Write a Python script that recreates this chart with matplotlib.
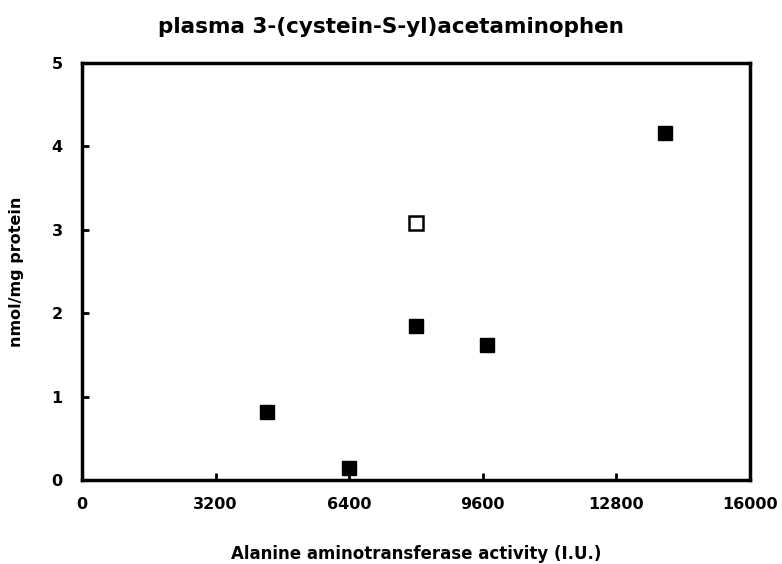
import matplotlib
matplotlib.use("Agg")
import matplotlib.pyplot as plt

# values
alt_filled = [4430, 6400, 8000, 9700, 13970]
cys_filled = [0.82, 0.14, 1.85, 1.62, 4.16]
alt_open = [8010]
cys_open = [3.08]

xticks = [0, 3200, 6400, 9600, 12800, 16000]
yticks = [0, 1, 2, 3, 4, 5]

plt.rcParams['font.family'] = ['DejaVu Sans']
plt.rcParams['font.weight'] = 'bold'

fig = plt.figure(figsize=(7.82, 5.64), dpi=100)
ax = fig.add_axes([0.1049, 0.1489, 0.8536, 0.7394])

ax.plot(alt_filled, cys_filled, 's', color='black', markersize=10.5, linestyle='none')
ax.plot(alt_open, cys_open, 's', markerfacecolor='white', markeredgecolor='black',
        markeredgewidth=1.8, markersize=10, linestyle='none')

ax.set_xlim(0, 16000)
ax.set_ylim(0, 5)
ax.set_xticks(xticks)
ax.set_yticks(yticks)
ax.tick_params(direction='in', length=5, width=2, labelsize=11.5)
ax.tick_params(axis='x', pad=12)
ax.tick_params(axis='y', pad=14)
for lab in ax.get_xticklabels() + ax.get_yticklabels():
    lab.set_fontweight('bold')
for sp in ax.spines.values():
    sp.set_linewidth(2.5)

# title is centred on the page, not on the axes
fig.text(0.5, 0.952, 'plasma 3-(cystein-S-yl)acetaminophen', fontsize=15.5,
         fontweight='bold', ha='center', va='center')
ax.set_xlabel('Alanine aminotransferase activity (I.U.)', fontsize=12, fontweight='bold', labelpad=24)
ax.set_ylabel('nmol/mg protein', fontsize=11.5, fontweight='bold', labelpad=20)

fig.savefig('out.png', dpi=100)
